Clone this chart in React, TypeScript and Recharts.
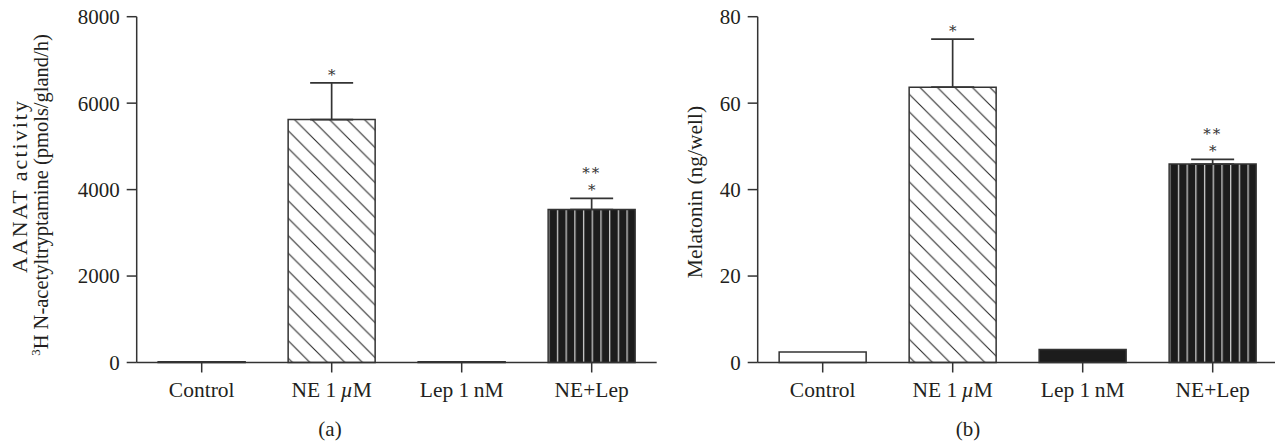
import React from "react";
import { ComposedChart, Bar, Line, XAxis, YAxis, ErrorBar, LabelList, Cell, Label } from "recharts";

const categories = ["Control", "NE 1 µM", "Lep 1 nM", "NE+Lep"];

const aanatMeans = [20, 5620, 20, 3540];
const aanatErrors = [null, 850, null, 255];
const aanatTicks = [0, 2000, 4000, 6000, 8000];

const melatoninMeans = [2.4, 63.7, 3.0, 45.9];
const melatoninErrors = [null, 11.1, null, 1.1];
const melatoninTicks = [0, 20, 40, 60, 80];

const starMarks = ["", "*", "", "**|*"];

const INK = "#231f20";
const LINE = "#333333";
const FONT = "'Liberation Serif', 'Times New Roman', serif";
const STAR_FONT = "'DejaVu Serif', serif";

function buildRows(means: number[], errors: (number | null)[]) {
  return categories.map((name, i) => ({
    name,
    mean: means[i],
    err: errors[i] == null ? null : [0, errors[i] as number],
    top: errors[i] == null ? null : means[i] + (errors[i] as number),
    stars: starMarks[i],
  }));
}

const aanatRows = buildRows(aanatMeans, aanatErrors);
const melatoninRows = buildRows(melatoninMeans, melatoninErrors);

const CategoryTick = (props: any) => {
  const { x, y, payload } = props;
  const v: string = payload.value;
  let content: React.ReactNode = v;
  if (v.includes("µ")) {
    const [pre, post] = v.split("µ");
    content = (
      <>
        <tspan>{pre.replace(/ $/, "\u2009")}</tspan>
        <tspan fontStyle="italic">µ</tspan>
        <tspan>{post}</tspan>
      </>
    );
  } else if (v === "Lep 1 nM") {
    content = "Lep 1\u2009nM";
  }
  return (
    <text x={x} y={y + 14} textAnchor="middle" fontSize={21.5} fill={INK} fontFamily={FONT}>
      {content}
    </text>
  );
};

const StarLabel = (props: any) => {
  const { x, y, value } = props;
  if (!value || x == null || y == null) return null;
  const lines = String(value).split("|").reverse();
  return (
    <g>
      {lines.map((s, i) => (
        <text
          key={i}
          x={x}
          y={y - 3 - i * 17.5}
          textAnchor="middle"
          fontSize={15}
          fill={LINE}
          fontFamily={STAR_FONT}
          letterSpacing={s.length > 1 ? 2 : 0}
        >
          {s}
        </text>
      ))}
    </g>
  );
};

const Patterns = ({ id }: { id: string }) => (
  <defs>
    <pattern id={`hatch-${id}`} patternUnits="userSpaceOnUse" width="17.5" height="17.5">
      <rect width="17.5" height="17.5" fill="#ffffff" />
      <path d="M0,0 L17.5,17.5 M-4,13.5 L4,21.5 M13.5,-4 L21.5,4" stroke="#2a2a2a" strokeWidth="1.1" />
    </pattern>
    <pattern id={`stripes-${id}`} patternUnits="objectBoundingBox" x="0" y="0" width="0.1" height="1">
      <rect x="0" y="0" width="100" height="1000" fill="#1c1c1c" />
      <rect x="0" y="0" width="1.3" height="1000" fill="#c9c9c9" />
    </pattern>
  </defs>
);

type PanelProps = {
  id: string;
  rows: any[];
  ticks: number[];
  width: number;
  axisWidth: number;
  title: (p: any) => React.ReactNode;
  letter: string;
  letterX: number;
};

const Panel = ({ id, rows, ticks, width, axisWidth, title, letter, letterX }: PanelProps) => {
  const fills = ["#ffffff", `url(#hatch-${id})`, "#1c1c1c", `url(#stripes-${id})`];
  return (
    <ComposedChart
      width={width}
      height={447}
      data={rows}
      margin={{ top: 16.7, right: 0, bottom: 54.5, left: 0 }}
      barCategoryGap="16.5%"
    >
      <Patterns id={id} />
      <XAxis
        dataKey="name"
        height={30}
        tick={<CategoryTick />}
        tickSize={10}
        tickMargin={11}
        axisLine={{ stroke: LINE, strokeWidth: 1.5 }}
        tickLine={{ stroke: LINE, strokeWidth: 1.5 }}
        interval={0}
      >
        <Label
          content={() => (
            <text x={letterX} y={436} textAnchor="middle" fontSize={21} fill={INK} fontFamily={FONT}>
              {letter}
            </text>
          )}
        />
      </XAxis>
      <YAxis
        width={axisWidth}
        domain={[0, ticks[ticks.length - 1]]}
        ticks={ticks}
        interval={0}
        tickSize={10}
        tickMargin={7}
        tick={{ fontSize: 21, fill: INK, fontFamily: FONT }}
        axisLine={{ stroke: LINE, strokeWidth: 1.5 }}
        tickLine={{ stroke: LINE, strokeWidth: 1.5 }}
      >
        <Label content={title} />
      </YAxis>
      <Bar dataKey="mean" stroke={LINE} strokeWidth={1.5} isAnimationActive={false}>
        {rows.map((_, i) => (
          <Cell key={i} fill={fills[i]} />
        ))}
        <ErrorBar dataKey="err" direction="y" width={21.5} stroke={LINE} strokeWidth={1.7} />
      </Bar>
      <Line
        dataKey="top"
        stroke="none"
        dot={false}
        activeDot={false}
        isAnimationActive={false}
        legendType="none"
      >
        <LabelList dataKey="stars" content={<StarLabel />} />
      </Line>
    </ComposedChart>
  );
};

const AanatTitle = () => (
  <g fontFamily={FONT} fill={INK} fontSize={22}>
    <text transform="translate(27.5,187) rotate(-90)" textAnchor="middle" textLength={172} lengthAdjust="spacing">
      AANAT activity
    </text>
    <text transform="translate(48,195) rotate(-90)" textAnchor="middle">
      <tspan fontSize={13} dy={-8}>3</tspan>
      <tspan dy={8} fontSize={20.5}>H N-acetyltryptamine (pmols/gland/h)</tspan>
    </text>
  </g>
);

const MelatoninTitle = () => (
  <g fontFamily={FONT} fill={INK} fontSize={21.5}>
    <text transform="translate(62,192) rotate(-90)" textAnchor="middle">
      Melatonin (ng/well)
    </text>
  </g>
);

export default function App() {
  return (
    <div
      style={{
        position: "absolute",
        left: 0,
        top: 0,
        width: 1275,
        height: 447,
        overflow: "hidden",
        background: "#ffffff",
        fontFamily: FONT,
      }}
    >
      <div style={{ position: "absolute", left: 0, top: 0 }}>
        <Panel
          id="a"
          rows={aanatRows}
          ticks={aanatTicks}
          width={656.7}
          axisWidth={136.7}
          title={AanatTitle}
          letter="(a)"
          letterX={330}
        />
      </div>
      <div style={{ position: "absolute", left: 640, top: 0 }}>
        <Panel
          id="b"
          rows={melatoninRows}
          ticks={melatoninTicks}
          width={637.7}
          axisWidth={117.7}
          title={MelatoninTitle}
          letter="(b)"
          letterX={328}
        />
      </div>
    </div>
  );
}
